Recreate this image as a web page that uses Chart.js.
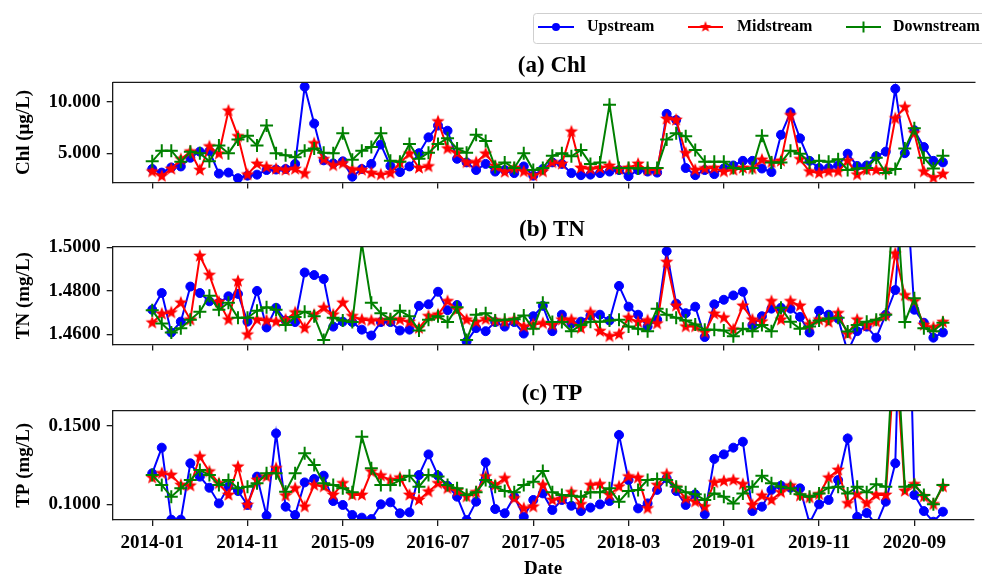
<!DOCTYPE html>
<html>
<head>
<meta charset="utf-8">
<script src="https://cdn.jsdelivr.net/npm/chart.js@4.4.1/dist/chart.umd.min.js"></script>
<style>
  html, body { margin: 0; padding: 0; background: #fff; width: 982px; height: 576px; overflow: hidden; }
  canvas { position: absolute; left: 0; }
</style>
</head>
<body>
<canvas id="panelChl" width="982" height="200" style="top:0px"></canvas>
<canvas id="panelTN" width="982" height="162" style="top:200px"></canvas>
<canvas id="panelTP" width="982" height="214" style="top:362px"></canvas>
<script>
// ---- monthly sampling dates ----
const months = [
  '2014-01','2014-02','2014-03','2014-04','2014-05','2014-06','2014-07','2014-08','2014-09','2014-10','2014-11','2014-12',
  '2015-01','2015-02','2015-03','2015-04','2015-05','2015-06','2015-07','2015-08','2015-09','2015-10','2015-11','2015-12',
  '2016-01','2016-02','2016-03','2016-04','2016-05','2016-06','2016-07','2016-08','2016-09','2016-10','2016-11','2016-12',
  '2017-01','2017-02','2017-03','2017-04','2017-05','2017-06','2017-07','2017-08','2017-09','2017-10','2017-11','2017-12',
  '2018-01','2018-02','2018-03','2018-04','2018-05','2018-06','2018-07','2018-08','2018-09','2018-10','2018-11','2018-12',
  '2019-01','2019-02','2019-03','2019-04','2019-05','2019-06','2019-07','2019-08','2019-09','2019-10','2019-11','2019-12',
  '2020-01','2020-02','2020-03','2020-04','2020-05','2020-06','2020-07','2020-08','2020-09','2020-10','2020-11','2020-12'
];
const xTickLabels = ['2014-01','2014-11','2015-09','2016-07','2017-05','2018-03','2019-01','2019-11','2020-09'];

// ---- Chl (μg/L) ----
const chlUp = [
  3.45,3.1,3.6,3.7,4.55,5.15,5.2,3.0,3.1,2.55,
  2.8,2.9,3.35,3.4,3.45,3.95,11.5,7.9,4.3,4.0,
  4.2,2.7,3.45,3.95,5.85,3.75,3.15,3.7,5.0,6.55,
  7.7,7.2,4.45,4.1,3.35,3.95,3.2,3.35,3.05,3.7,
  2.8,3.45,4.1,3.95,3.05,2.85,2.9,3.05,3.2,3.35,
  2.75,3.35,3.2,3.1,8.85,8.25,3.55,2.85,3.35,2.95,
  3.5,3.8,4.25,4.25,3.5,3.15,6.8,9.0,6.45,4.25,
  3.55,3.55,3.8,4.95,3.75,3.8,4.7,5.15,11.3,5.0,
  7.25,5.6,4.25,4.1
];
const chlMid = [
  3.2,2.75,3.45,4.4,5.15,3.35,5.65,4.95,9.15,6.65,
  2.9,3.95,3.65,3.45,3.35,3.45,3.0,5.95,4.4,3.8,
  4.0,3.4,3.35,3.05,2.9,3.05,4.05,4.95,3.55,3.7,
  8.1,5.45,5.0,4.1,4.1,4.95,3.75,3.15,3.55,3.2,
  2.8,3.2,4.1,3.95,7.1,3.55,3.45,3.55,3.75,3.45,
  3.55,3.95,3.35,3.35,8.35,8.25,5.0,3.35,3.5,3.55,
  3.2,3.35,3.55,3.5,4.35,4.1,4.25,8.7,4.4,3.2,
  3.05,3.2,3.2,4.25,2.9,3.35,3.35,3.35,8.4,9.5,
  6.95,3.2,2.6,2.95
];
const chlDown = [
  4.2,5.25,5.25,4.15,5.15,5.0,4.2,5.75,5.0,6.35,
  6.7,5.75,7.7,5.0,4.8,4.6,5.25,5.45,5.05,5.0,
  6.95,4.35,5.25,5.6,6.95,4.25,4.15,5.9,4.45,5.05,
  5.9,6.45,5.45,5.05,6.8,6.2,3.65,4.1,3.55,5.0,
  3.35,3.55,4.75,5.0,4.7,5.3,3.95,4.1,9.75,3.55,
  3.55,3.5,3.55,3.55,6.35,6.95,6.65,5.3,4.15,4.15,
  4.15,3.55,3.45,3.55,6.7,4.1,4.1,5.25,4.95,4.1,
  4.25,4.15,4.4,3.35,3.5,3.55,4.55,3.05,3.45,5.45,
  7.45,4.55,3.5,4.75
];

// ---- TN (mg/L) ----
const tnUp = [
  1.4713,1.4790,1.4608,1.4658,1.4820,1.4790,1.4752,1.4745,1.4775,1.4786,
  1.4658,1.4800,1.4631,1.4722,1.4663,1.4656,1.4885,1.4873,1.4855,1.4635,
  1.4658,1.4656,1.4621,1.4594,1.4656,1.4656,1.4617,1.4621,1.4731,1.4738,
  1.4796,1.4711,1.4735,1.4566,1.4628,1.4614,1.4656,1.4635,1.4656,1.4603,
  1.4683,1.4731,1.4614,1.4690,1.4649,1.4658,1.4686,1.4690,1.4663,1.4823,
  1.4727,1.4690,1.4635,1.4667,1.4983,1.4741,1.4697,1.4727,1.4587,1.4738,
  1.4759,1.4779,1.4796,1.4642,1.4683,1.4718,1.4722,1.4718,1.4680,1.4608,
  1.4708,1.4690,1.4672,1.4520,1.4614,1.4635,1.4584,1.4690,1.4804,1.5400,
  1.4713,1.4653,1.4584,1.4608
];
const tnMid = [
  1.4653,1.4694,1.4700,1.4745,1.4667,1.4961,1.4873,1.4749,1.4667,1.4845,
  1.4598,1.4667,1.4663,1.4658,1.4667,1.4700,1.4628,1.4690,1.4722,1.4690,
  1.4745,1.4683,1.4667,1.4663,1.4663,1.4667,1.4667,1.4656,1.4628,1.4683,
  1.4690,1.4752,1.4713,1.4667,1.4656,1.4669,1.4663,1.4658,1.4667,1.4635,
  1.4645,1.4650,1.4642,1.4667,1.4667,1.4628,1.4700,1.4614,1.4590,1.4600,
  1.4676,1.4656,1.4663,1.4649,1.4933,1.4731,1.4635,1.4635,1.4608,1.4694,
  1.4676,1.4621,1.4731,1.4667,1.4658,1.4752,1.4667,1.4752,1.4731,1.4645,
  1.4667,1.4656,1.4697,1.4600,1.4667,1.4639,1.4658,1.4686,1.4972,1.4779,
  1.4752,1.4642,1.4631,1.4656
];
const tnDown = [
  1.4711,1.4649,1.4608,1.4628,1.4667,1.4704,1.4777,1.4713,1.4745,1.4676,
  1.4676,1.4708,1.4724,1.4713,1.4642,1.4680,1.4704,1.4683,1.4573,1.4676,
  1.4663,1.4656,1.5020,1.4745,1.4697,1.4669,1.4708,1.4683,1.4617,1.4667,
  1.4683,1.4656,1.4724,1.4573,1.4690,1.4697,1.4663,1.4667,1.4669,1.4686,
  1.4625,1.4745,1.4656,1.4656,1.4614,1.4642,1.4658,1.4658,1.4663,1.4667,
  1.4635,1.4625,1.4614,1.4718,1.4690,1.4676,1.4663,1.4645,1.4621,1.4621,
  1.4617,1.4590,1.4625,1.4614,1.4642,1.4614,1.4722,1.4658,1.4625,1.4635,
  1.4663,1.4672,1.4676,1.4612,1.4642,1.4658,1.4667,1.4690,1.5300,1.4656,
  1.4766,1.4628,1.4614,1.4653
];

// ---- TP (mg/L) ----
const tpUp = [
  0.1198,0.1362,0.0902,0.0902,0.1262,0.1177,0.1106,0.1006,0.1113,0.1085,
  0.0996,0.1177,0.0928,0.1453,0.0985,0.0932,0.1140,0.1162,0.1183,0.1021,
  0.0996,0.0932,0.0915,0.0906,0.1000,0.1013,0.0943,0.0949,0.1187,0.1319,
  0.1183,0.1119,0.1049,0.0900,0.1017,0.1268,0.0970,0.0943,0.1049,0.0921,
  0.1028,0.1070,0.0964,0.1028,0.0991,0.0957,0.0979,0.1000,0.1021,0.1443,
  0.1155,0.0974,0.1006,0.1092,0.1166,0.1085,0.0996,0.1064,0.0936,0.1290,
  0.1319,0.1362,0.1400,0.0957,0.0985,0.1092,0.1119,0.1106,0.1102,0.0880,
  0.1000,0.1028,0.1155,0.1421,0.0920,0.0945,0.0870,0.1017,0.1262,0.3400,
  0.1060,0.0957,0.0889,0.0953
];
const tpMid = [
  0.1170,0.1198,0.1187,0.1123,0.1119,0.1304,0.1209,0.1134,0.1060,0.1240,
  0.0996,0.1155,0.1177,0.1230,0.1055,0.1102,0.0985,0.1123,0.1113,0.1060,
  0.1134,0.1060,0.1060,0.1209,0.1183,0.1155,0.1170,0.1060,0.1028,0.1081,
  0.1134,0.1102,0.1085,0.1049,0.1077,0.1177,0.1123,0.1166,0.1038,0.0974,
  0.0985,0.1123,0.1028,0.1034,0.1077,0.1000,0.1123,0.1128,0.1060,0.1113,
  0.1177,0.1170,0.0974,0.1123,0.1192,0.1106,0.1038,0.1017,0.0985,0.1140,
  0.1149,0.1155,0.1128,0.0996,0.1055,0.1028,0.1077,0.1119,0.1055,0.1043,
  0.1064,0.1170,0.1219,0.1006,0.1064,0.1006,0.1060,0.1060,0.2000,0.1085,
  0.1128,0.1049,0.1000,0.1113
];
const tpDown = [
  0.1187,0.1123,0.1049,0.1102,0.1155,0.1219,0.1187,0.1123,0.1155,0.1102,
  0.1113,0.1134,0.1198,0.1198,0.1081,0.1198,0.1326,0.1251,0.1134,0.1123,
  0.1102,0.1077,0.1432,0.1230,0.1123,0.1123,0.1155,0.1183,0.1113,0.1187,
  0.1177,0.1123,0.1102,0.1060,0.1077,0.1155,0.1113,0.1085,0.1077,0.1123,
  0.1145,0.1213,0.1077,0.1060,0.1055,0.1049,0.1077,0.1077,0.1102,0.1017,
  0.1085,0.1092,0.1155,0.1162,0.1155,0.1113,0.1077,0.1064,0.1028,0.1070,
  0.1049,0.1006,0.1070,0.1113,0.1183,0.1134,0.1113,0.1102,0.1064,0.1049,
  0.1070,0.1106,0.1113,0.1070,0.1113,0.1077,0.1128,0.1113,0.2200,0.1113,
  0.1123,0.1060,0.1000,0.1123
];

// ---- y-axis tick values ----
const chlTicks = [5, 10];
const tnTicks = [1.46, 1.48, 1.50];
const tpTicks = [0.10, 0.15];

const seriesNames = ['Upstream', 'Midstream', 'Downstream'];

// ---------------------------------------------------------------
const SERIF = '"Liberation Serif", "Times New Roman", serif';
const AXIS_W = 112.7;          // room reserved for y ticks + y title
const INK = '#1a1a1a';
const COLORS = ['#0000ff', '#ff0000', '#008000'];

// filled five-point star used as the Midstream marker
function makeStar(color, R) {
  const size = Math.ceil(R * 2 + 2);
  const c = document.createElement('canvas');
  c.width = size; c.height = size;
  const g = c.getContext('2d');
  const r = R * 0.42;
  g.beginPath();
  for (let k = 0; k < 10; k++) {
    const rad = k % 2 === 0 ? R : r;
    const a = -Math.PI / 2 + k * Math.PI / 5;
    const px = size / 2 + rad * Math.cos(a);
    const py = size / 2 + rad * Math.sin(a);
    if (k === 0) g.moveTo(px, py); else g.lineTo(px, py);
  }
  g.closePath();
  g.fillStyle = color;
  g.fill();
  return c;
}
const starMarker = makeStar(COLORS[1], 7);

const markerStyles = [
  { pointStyle: 'circle', pointRadius: 4.5, pointBorderWidth: 1 },
  { pointStyle: starMarker, pointRadius: 7, pointBorderWidth: 1 },
  { pointStyle: 'cross', pointRadius: 6.5, pointBorderWidth: 2 }
];

const xTickIdx = xTickLabels.map(l => months.indexOf(l));

// top spine, panel title and (optionally) the legend
const framePlugin = {
  id: 'frame',
  afterDraw(chart, args, opts) {
    const { ctx, chartArea } = chart;
    ctx.save();
    ctx.strokeStyle = INK;
    ctx.lineWidth = 1.3;
    ctx.beginPath();
    ctx.moveTo(chartArea.left, chartArea.top);
    ctx.lineTo(chartArea.right + 2, chartArea.top);
    ctx.stroke();

    ctx.fillStyle = '#000';
    ctx.font = 'bold 23px ' + SERIF;
    ctx.textAlign = 'center';
    ctx.textBaseline = 'alphabetic';
    ctx.fillText(opts.title, 552, chartArea.top - 10.5);

    if (opts.legend) {
      ctx.lineWidth = 1;
      ctx.strokeStyle = '#cfcfcf';
      ctx.fillStyle = 'rgba(255,255,255,0.9)';
      const bx = 533.5, by = 13.5, bw = 470, bh = 30, rr = 3;
      ctx.beginPath();
      ctx.moveTo(bx + rr, by);
      ctx.lineTo(bx + bw, by);
      ctx.lineTo(bx + bw, by + bh);
      ctx.lineTo(bx + rr, by + bh);
      ctx.arcTo(bx, by + bh, bx, by + bh - rr, rr);
      ctx.lineTo(bx, by + rr);
      ctx.arcTo(bx, by, bx + rr, by, rr);
      ctx.closePath();
      ctx.fill();
      ctx.stroke();

      const items = [
        { x1: 538, x2: 574, tx: 587 },
        { x1: 688, x2: 723, tx: 737 },
        { x1: 846, x2: 881, tx: 893 }
      ];
      const ly = 27;
      chart.data.datasets.forEach((ds, i) => {
        const it = items[i];
        const c = COLORS[i];
        ctx.strokeStyle = c;
        ctx.lineWidth = 2;
        ctx.beginPath();
        ctx.moveTo(it.x1, ly);
        ctx.lineTo(it.x2, ly);
        ctx.stroke();
        const mx = (it.x1 + it.x2) / 2;
        if (i === 0) {
          ctx.fillStyle = c;
          ctx.beginPath();
          ctx.arc(mx, ly, 4, 0, Math.PI * 2);
          ctx.fill();
        } else if (i === 1) {
          const s = makeStar(c, 6);
          ctx.drawImage(s, mx - s.width / 2, ly - s.height / 2);
        } else {
          ctx.beginPath();
          ctx.moveTo(mx - 5.5, ly); ctx.lineTo(mx + 5.5, ly);
          ctx.moveTo(mx, ly - 5.5); ctx.lineTo(mx, ly + 5.5);
          ctx.stroke();
        }
        ctx.fillStyle = '#000';
        ctx.font = 'bold 16px ' + SERIF;
        ctx.textAlign = 'left';
        ctx.textBaseline = 'middle';
        ctx.fillText(ds.label, it.tx, ly);
      });
    }
    ctx.restore();
  }
};

function buildPanel(canvasId, spec) {
  const datasets = spec.series.map((vals, i) => Object.assign({
    label: seriesNames[i],
    data: vals.map((v, k) => ({ x: k, y: v })),
    borderColor: COLORS[i],
    backgroundColor: COLORS[i],
    pointBackgroundColor: COLORS[i],
    pointBorderColor: COLORS[i],
    borderWidth: 2,
    tension: 0,
    clip: 0,
    order: 3 - i
  }, markerStyles[i]));

  return new Chart(document.getElementById(canvasId), {
    type: 'line',
    data: { datasets },
    plugins: [framePlugin],
    options: {
      responsive: false,
      animation: false,
      devicePixelRatio: 1,
      events: [],
      layout: { padding: { top: spec.padTop, left: 0, right: 0, bottom: 0 } },
      plugins: {
        legend: { display: false },
        tooltip: { enabled: false },
        frame: { title: spec.title, legend: !!spec.legend }
      },
      scales: {
        x: {
          type: 'linear',
          min: -4.15,
          max: 86.21,
          afterBuildTicks: s => { s.ticks = xTickIdx.map(v => ({ value: v })); },
          afterFit: s => { s.height = spec.xHeight; },
          grid: { drawOnChartArea: false, drawTicks: true, tickLength: 6, color: INK, lineWidth: 1.3 },
          border: { display: true, color: INK, width: 1.3, z: 1 },
          ticks: {
            display: !!spec.showDates,
            callback: v => months[v] ?? '',
            color: '#000',
            padding: 6,
            maxRotation: 0,
            autoSkip: false,
            font: { family: SERIF, size: 19, weight: 'bold' }
          },
          title: {
            display: !!spec.showDates,
            text: 'Date',
            color: '#000',
            padding: { top: 0, bottom: 0 },
            font: { family: SERIF, size: 19, weight: 'bold', lineHeight: 0.75 }
          }
        },
        y: {
          min: spec.yMin,
          max: spec.yMax,
          afterBuildTicks: s => { s.ticks = spec.yTicks.map(v => ({ value: v })); },
          afterFit: s => { s.width = AXIS_W; },
          grid: { drawOnChartArea: false, drawTicks: true, tickLength: 6, color: INK, lineWidth: 1.3 },
          border: { display: true, color: INK, width: 1.3, z: 1 },
          ticks: {
            callback: v => Number(v).toFixed(spec.decimals),
            color: '#000',
            padding: 6,
            font: { family: SERIF, size: 19, weight: 'bold' }
          },
          title: {
            display: true,
            text: spec.yTitle,
            color: '#000',
            padding: { top: 13, bottom: 0 },
            font: { family: SERIF, size: 19, weight: 'bold' }
          }
        }
      }
    }
  });
}

buildPanel('panelChl', {
  series: [chlUp, chlMid, chlDown],
  title: '(a) Chl', yTitle: 'Chl (μg/L)',
  yMin: 2.12, yMax: 11.94, yTicks: chlTicks, decimals: 3,
  padTop: 82.3, xHeight: 7.7, legend: true
});
buildPanel('panelTN', {
  series: [tnUp, tnMid, tnDown],
  title: '(b) TN', yTitle: 'TN (mg/L)',
  yMin: 1.4552, yMax: 1.5004, yTicks: tnTicks, decimals: 4,
  padTop: 46.7, xHeight: 6.3
});
buildPanel('panelTP', {
  series: [tpUp, tpMid, tpDown],
  title: '(c) TP', yTitle: 'TP (mg/L)',
  yMin: 0.09, yMax: 0.1598, yTicks: tpTicks, decimals: 4,
  padTop: 48.7, xHeight: 56, showDates: true
});
</script>
</body>
</html>
